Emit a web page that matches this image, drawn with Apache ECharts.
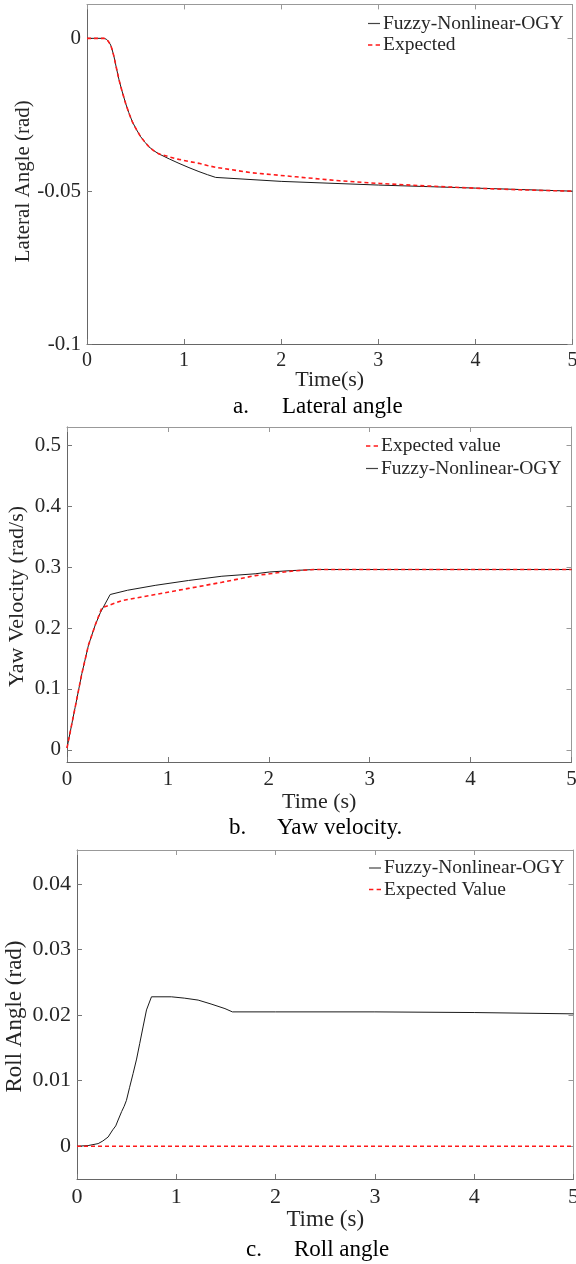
<!DOCTYPE html>
<html>
<head>
<meta charset="utf-8">
<script src="https://cdn.jsdelivr.net/npm/echarts@6/dist/echarts.min.js"></script>
<style>html,body{margin:0;padding:0;background:#fff}#c{width:576px;height:1264px}</style>
</head>
<body>
<div id="c"></div>
<script>
// ---- Data: (a) Lateral angle ----
const tFuzzyA = [0, 0.1, 0.175, 0.2, 0.22, 0.244, 0.26, 0.278, 0.3, 0.33, 0.36, 0.398, 0.43, 0.467, 0.51, 0.553, 0.6, 0.638, 0.69, 0.74, 0.85, 0.947, 1.05, 1.153, 1.24, 1.325, 2, 3, 4, 5];
const fuzzyA  = [0, 0, 0, -0.0003, -0.001, -0.0022, -0.0038, -0.006, -0.0093, -0.0136, -0.0172, -0.0213, -0.0243, -0.0273, -0.0299, -0.0322, -0.0341, -0.0355, -0.0368, -0.0378, -0.0395, -0.0409, -0.0423, -0.0436, -0.0446, -0.0455, -0.0468, -0.048, -0.049, -0.05];
const tExpA   = [0, 0.1, 0.175, 0.2, 0.22, 0.244, 0.26, 0.278, 0.3, 0.33, 0.36, 0.398, 0.43, 0.467, 0.51, 0.553, 0.6, 0.638, 0.69, 0.74, 0.85, 0.947, 1.05, 1.153, 1.24, 1.325, 1.7, 2.15, 2.6, 3.02, 3.5, 4.05, 4.5, 5];
const expA    = [0, 0, 0, -0.0003, -0.001, -0.0022, -0.0038, -0.006, -0.0093, -0.0136, -0.0172, -0.0213, -0.0243, -0.0273, -0.0299, -0.0322, -0.0341, -0.0355, -0.0368, -0.0378, -0.0388, -0.0396, -0.0403, -0.0409, -0.0416, -0.0422, -0.044, -0.0453, -0.0466, -0.0475, -0.0483, -0.0491, -0.0496, -0.05];
const yTicksA = [-0.1, -0.05, 0];

// ---- Data: (b) Yaw velocity ----
const tFuzzyB = [0, 0.081, 0.147, 0.213, 0.28, 0.33, 0.428, 0.6, 0.874, 1.204, 1.535, 1.865, 2.01, 2.2, 2.45, 3, 4, 5];
const fuzzyB  = [0.003, 0.07, 0.125, 0.172, 0.205, 0.225, 0.255, 0.262, 0.27, 0.278, 0.285, 0.289, 0.292, 0.294, 0.296, 0.296, 0.296, 0.296];
const tExpB   = [0, 0.081, 0.147, 0.213, 0.28, 0.345, 0.544, 0.874, 1.204, 1.535, 1.865, 2.01, 2.2, 2.45, 3, 4, 5];
const expB    = [0.003, 0.07, 0.125, 0.172, 0.205, 0.233, 0.245, 0.255, 0.265, 0.275, 0.286, 0.289, 0.293, 0.296, 0.296, 0.296, 0.296];
const yTicksB = [0, 0.1, 0.2, 0.3, 0.4, 0.5];

// ---- Data: (c) Roll angle ----
const tFuzzyC = [0, 0.112, 0.213, 0.26, 0.313, 0.36, 0.39, 0.414, 0.45, 0.475, 0.498, 0.53, 0.565, 0.6, 0.632, 0.665, 0.70, 0.75, 0.95, 1.08, 1.22, 1.35, 1.49, 1.565, 2, 3, 4, 5];
const fuzzyC  = [0, 0.0001, 0.0004, 0.0008, 0.0014, 0.0025, 0.0031, 0.004, 0.0053, 0.0061, 0.007, 0.009, 0.0111, 0.0133, 0.0157, 0.0182, 0.0208, 0.0228, 0.0228, 0.0226, 0.0223, 0.0217, 0.021, 0.0205, 0.0205, 0.0205, 0.0204, 0.0202];
const tExpC   = [0, 5];
const expC    = [0, 0];
const yTicksC = [0, 0.01, 0.02, 0.03, 0.04];

const xTicks = [0, 1, 2, 3, 4, 5];

const names = {
  fuzzy: 'Fuzzy-Nonlinear-OGY',
  expA: 'Expected',
  expB: 'Expected value',
  expC: 'Expected Value'
};

const FONT = 'Liberation Serif, Times New Roman, serif';
const TXT = '#262626';
const zip = (t, v) => t.map((x, i) => [x, v[i]]);

const grids = [
  {left: 87, right: 3.5, top: 4.4, height: 339.6, outerBoundsMode: 'none', containLabel: false},
  {left: 67, right: 4.5, top: 427, height: 335, outerBoundsMode: 'none', containLabel: false},
  {left: 77, right: 2.5, top: 850, height: 329, outerBoundsMode: 'none', containLabel: false}
];
const yRanges = [
  {min: -0.1, max: 0.0111, ticks: yTicksA, name: 'Lateral Angle (rad)', gap: 53, nameSize: 21, tickSize: 21, namePad: [0, 14, 0, 0]},
  {min: -0.02, max: 0.53, ticks: yTicksB, name: 'Yaw Velocity (rad/s)', gap: 39, nameSize: 22, tickSize: 21, namePad: [0, 4, 0, 0]},
  {min: -0.005, max: 0.0452, ticks: yTicksC, name: 'Roll Angle (rad)', gap: 51, nameSize: 23, tickSize: 22, namePad: [0, 4, 0, 0]}
];
const xNames = [
  {name: 'Time(s)', gap: 25, size: 22, tickSize: 20},
  {name: 'Time (s)', gap: 29, size: 22, tickSize: 21},
  {name: 'Time (s)', gap: 29, size: 23, tickSize: 22}
];

const xAxes = [], yAxes = [];
grids.forEach((g, i) => {
  xAxes.push({
    type: 'value', gridIndex: i, min: 0, max: 5, interval: 1, position: 'bottom',
    name: xNames[i].name, nameLocation: 'middle', nameGap: xNames[i].gap, nameMoveOverlap: false,
    nameTextStyle: {fontFamily: FONT, fontSize: xNames[i].size, color: TXT},
    axisLine: {show: true, onZero: false, lineStyle: {color: '#666', width: 1}},
    axisTick: {show: true, inside: true, length: 5, lineStyle: {color: '#777'}},
    axisLabel: {show: true, margin: 7, fontFamily: FONT, fontSize: xNames[i].tickSize, color: TXT,
      customValues: xTicks, formatter: v => String(v)},
    splitLine: {show: false}
  });
  xAxes.push({
    type: 'value', gridIndex: i, min: 0, max: 5, interval: 1, position: 'top',
    axisLine: {show: true, onZero: false, lineStyle: {color: '#999', width: 1}},
    axisTick: {show: true, inside: true, length: 5, lineStyle: {color: '#999'}},
    axisLabel: {show: false}, splitLine: {show: false}
  });
  const yr = yRanges[i];
  yAxes.push({
    type: 'value', gridIndex: i, min: yr.min, max: yr.max, position: 'left',
    name: yr.name, nameLocation: 'middle', nameGap: yr.gap, nameMoveOverlap: false,
    nameTextStyle: {fontFamily: FONT, fontSize: yr.nameSize, color: TXT, padding: yr.namePad},
    axisLine: {show: true, onZero: false, lineStyle: {color: '#666', width: 1}},
    axisTick: {show: true, inside: true, length: 5, customValues: yr.ticks, lineStyle: {color: '#777'}},
    axisLabel: {show: true, margin: 6, fontFamily: FONT, fontSize: yr.tickSize, color: TXT,
      customValues: yr.ticks, formatter: v => String(+v.toFixed(4))},
    splitLine: {show: false}
  });
  yAxes.push({
    type: 'value', gridIndex: i, min: yr.min, max: yr.max, position: 'right',
    axisLine: {show: true, onZero: false, lineStyle: {color: '#999', width: 1}},
    axisTick: {show: true, inside: true, length: 5, customValues: yr.ticks, lineStyle: {color: '#999'}},
    axisLabel: {show: false}, splitLine: {show: false}
  });
});

const blackLine = {color: '#1a1a1a', width: 1};
const redLine = {color: '#ff1a1a', width: 1.6, type: [4, 3]};
const mk = (name, xi, yi, data, ls) => ({
  type: 'line', name, xAxisIndex: xi, yAxisIndex: yi, data,
  symbol: 'none', showSymbol: false, lineStyle: ls, itemStyle: {color: ls.color},
  animation: false, smooth: false
});

const series = [
  mk(names.fuzzy, 0, 0, zip(tFuzzyA, fuzzyA), blackLine),
  mk(names.expA, 0, 0, zip(tExpA, expA), redLine),
  mk(names.fuzzy, 2, 2, zip(tFuzzyB, fuzzyB), blackLine),
  mk(names.expB, 2, 2, zip(tExpB, expB), redLine),
  mk(names.fuzzy, 4, 4, zip(tFuzzyC, fuzzyC), blackLine),
  mk(names.expC, 4, 4, zip(tExpC, expC), redLine)
];

const ICON_SOLID = 'path://M0,0h12v1.2h-12z';
const ICON_DASH = 'path://M0,0h4v1.6h-4zM7,0h4v1.6h-4z';
const legendBase = {
  orient: 'vertical', itemWidth: 12, itemHeight: 14, itemGap: 1.5, padding: 0,
  selectedMode: false, symbolKeepAspect: true,
  textStyle: {fontFamily: FONT, fontSize: 19.5, color: TXT, padding: [0, 0, 0, -2]}
};
const solidItem = n => ({name: n, icon: ICON_SOLID, itemStyle: {color: '#444'}});
const dashItem = n => ({name: n, icon: ICON_DASH, itemStyle: {color: '#ff1a1a'}});
const legends = [
  Object.assign({}, legendBase, {left: 368, top: 13.5, data: [solidItem(names.fuzzy), dashItem(names.expA)]}),
  Object.assign({}, legendBase, {left: 366, top: 436, itemGap: 2.5, data: [dashItem(names.expB), solidItem(names.fuzzy)]}),
  Object.assign({}, legendBase, {left: 369, top: 858, data: [solidItem(names.fuzzy), dashItem(names.expC)]})
];

const capStyle = {fontFamily: FONT, fontSize: 23, color: '#000', fontWeight: 'normal'};
const titles = [
  {text: 'a.', left: 233, top: 395},
  {text: 'Lateral angle', left: 282, top: 395},
  {text: 'b.', left: 229, top: 816},
  {text: 'Yaw velocity.', left: 277, top: 816},
  {text: 'c.', left: 246, top: 1238},
  {text: 'Roll angle', left: 294, top: 1238}
].map(t => Object.assign(t, {padding: 0, textStyle: capStyle}));

const chart = echarts.init(document.getElementById('c'), null, {renderer: 'canvas'});
chart.setOption({
  animation: false,
  backgroundColor: '#fff',
  title: titles,
  legend: legends,
  grid: grids,
  xAxis: xAxes,
  yAxis: yAxes,
  series
});
</script>
</body>
</html>
